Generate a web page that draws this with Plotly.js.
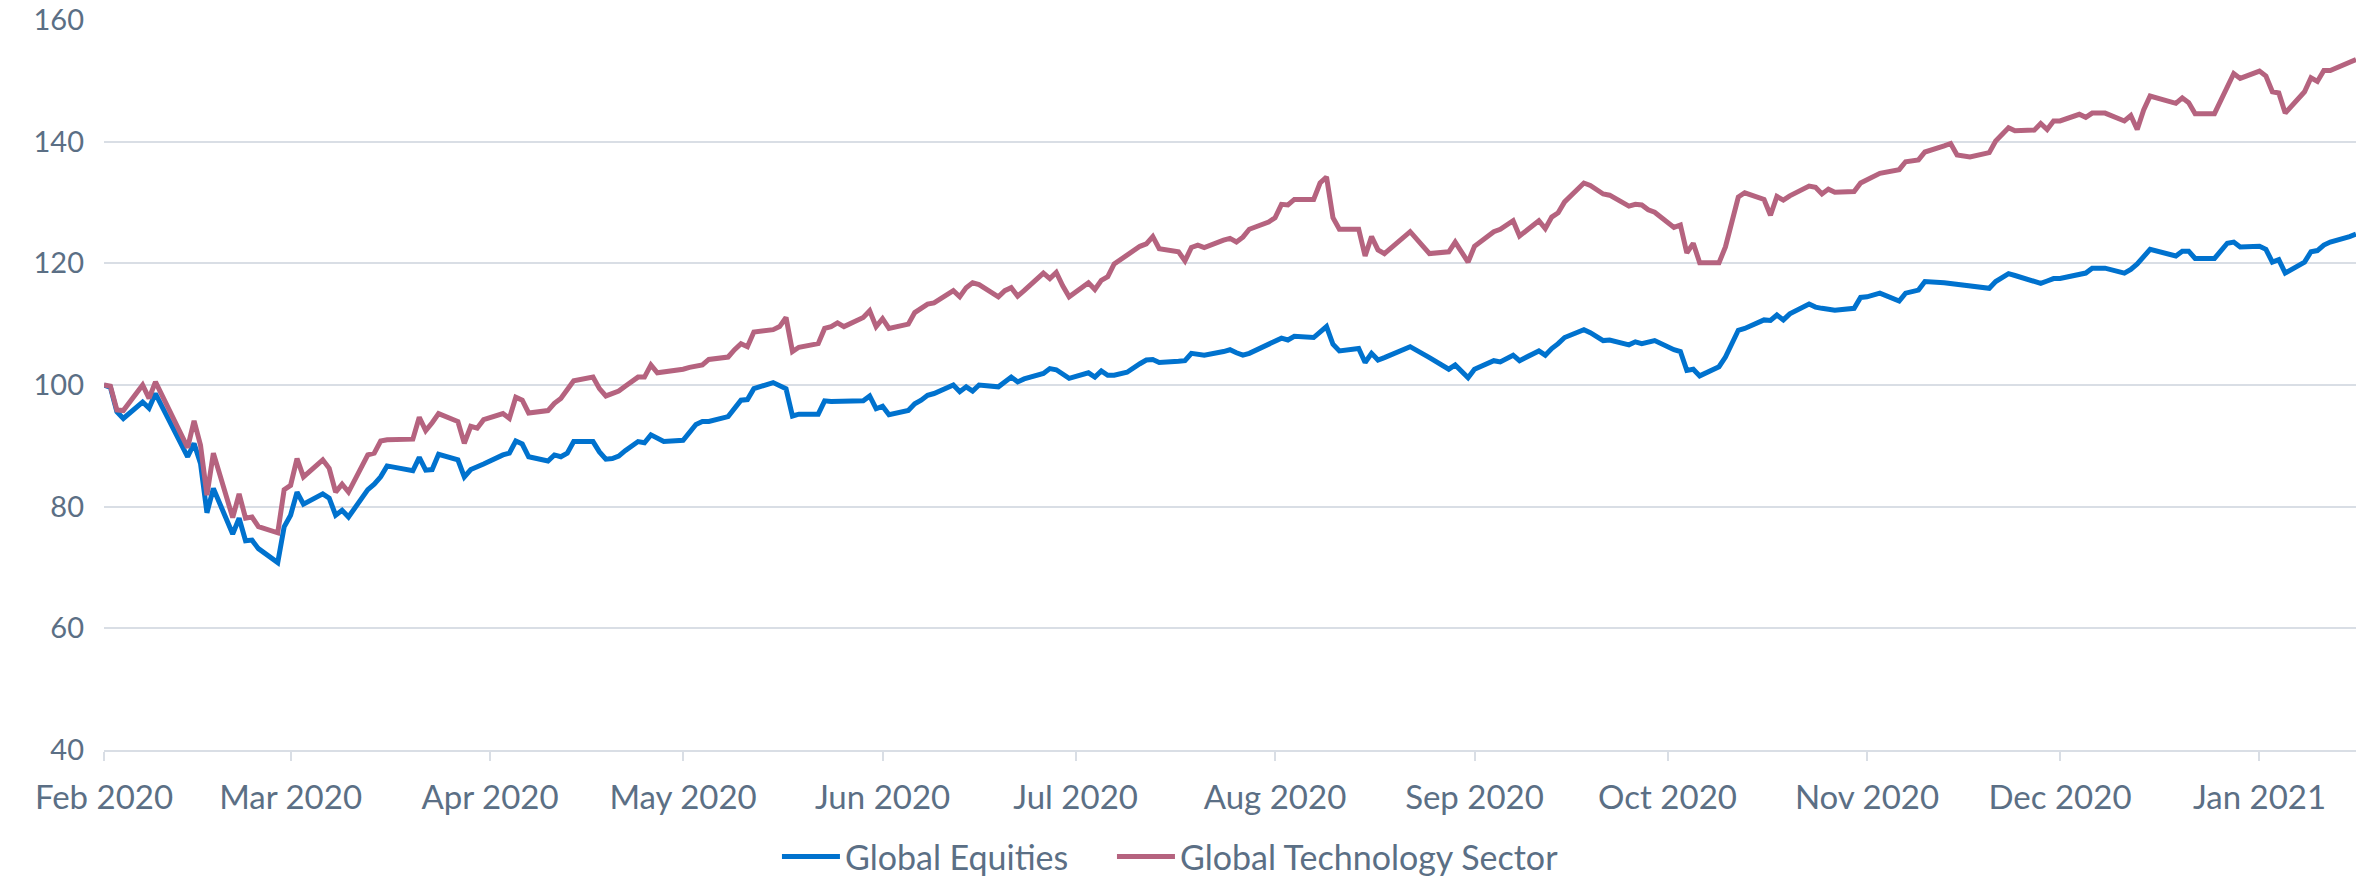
<!DOCTYPE html>
<html>
<head>
<meta charset="utf-8">
<script src="https://cdn.plot.ly/plotly-3.0.1.min.js"></script>
<style>html,body{margin:0;padding:0;background:#fff;}#chart{width:2376px;height:877px;}</style>
</head>
<body>
<div id="chart"></div>
<script>
const dates = [
'2020-02-01','2020-02-02','2020-02-03','2020-02-04','2020-02-07','2020-02-08','2020-02-09','2020-02-14','2020-02-15','2020-02-16',
'2020-02-17','2020-02-18','2020-02-21','2020-02-22','2020-02-23','2020-02-24','2020-02-25','2020-02-28','2020-02-29','2020-03-01',
'2020-03-02','2020-03-03','2020-03-06','2020-03-07','2020-03-08','2020-03-09','2020-03-10','2020-03-13','2020-03-14','2020-03-15',
'2020-03-16','2020-03-20','2020-03-21','2020-03-22','2020-03-23','2020-03-24','2020-03-27','2020-03-28','2020-03-29','2020-03-30',
'2020-03-31','2020-04-03','2020-04-04','2020-04-05','2020-04-06','2020-04-07','2020-04-10','2020-04-11','2020-04-12','2020-04-13',
'2020-04-14','2020-04-17','2020-04-18','2020-04-19','2020-04-20','2020-04-21','2020-04-22','2020-04-24','2020-04-25','2020-04-26',
'2020-04-27','2020-04-28','2020-05-01','2020-05-02','2020-05-03','2020-05-04','2020-05-05','2020-05-08','2020-05-09','2020-05-10',
'2020-05-11','2020-05-12','2020-05-15','2020-05-16','2020-05-17','2020-05-18','2020-05-19','2020-05-22','2020-05-23','2020-05-24',
'2020-05-25','2020-05-26','2020-05-29','2020-05-30','2020-05-31','2020-06-01','2020-06-02','2020-06-05','2020-06-06','2020-06-07',
'2020-06-08','2020-06-09','2020-06-12','2020-06-13','2020-06-14','2020-06-15','2020-06-16','2020-06-19','2020-06-20','2020-06-21',
'2020-06-22','2020-06-23','2020-06-26','2020-06-27','2020-06-28','2020-06-29','2020-06-30','2020-07-03','2020-07-04','2020-07-05',
'2020-07-06','2020-07-07','2020-07-09','2020-07-11','2020-07-12','2020-07-13','2020-07-14','2020-07-17','2020-07-18','2020-07-19',
'2020-07-20','2020-07-21','2020-07-24','2020-07-25','2020-07-26','2020-07-27','2020-07-28','2020-07-31','2020-08-01','2020-08-02',
'2020-08-03','2020-08-04','2020-08-07','2020-08-08','2020-08-09','2020-08-10','2020-08-11','2020-08-14','2020-08-15','2020-08-16',
'2020-08-17','2020-08-18','2020-08-22','2020-08-25','2020-08-28','2020-08-29','2020-08-31','2020-09-01','2020-09-04','2020-09-05',
'2020-09-07','2020-09-08','2020-09-11','2020-09-12','2020-09-13','2020-09-14','2020-09-15','2020-09-18','2020-09-19','2020-09-21',
'2020-09-22','2020-09-25','2020-09-26','2020-09-27','2020-09-28','2020-09-29','2020-10-02','2020-10-03','2020-10-04','2020-10-05',
'2020-10-06','2020-10-09','2020-10-10','2020-10-12','2020-10-13','2020-10-16','2020-10-17','2020-10-18','2020-10-19','2020-10-20',
'2020-10-23','2020-10-24','2020-10-25','2020-10-26','2020-10-27','2020-10-30','2020-10-31','2020-11-01','2020-11-03','2020-11-06',
'2020-11-07','2020-11-09','2020-11-10','2020-11-13','2020-11-14','2020-11-15','2020-11-17','2020-11-20','2020-11-21','2020-11-23',
'2020-11-24','2020-11-27','2020-11-28','2020-11-29','2020-11-30','2020-12-01','2020-12-04','2020-12-05','2020-12-06','2020-12-08',
'2020-12-11','2020-12-12','2020-12-13','2020-12-14','2020-12-15','2020-12-19','2020-12-20','2020-12-21','2020-12-22','2020-12-25',
'2020-12-27','2020-12-28','2020-12-29','2021-01-01','2021-01-02','2021-01-03','2021-01-04','2021-01-05','2021-01-08','2021-01-09',
'2021-01-10','2021-01-11','2021-01-12','2021-01-15','2021-01-16'
];

const globalEquities = [
100.0,99.6,95.6,94.5,97.2,96.2,98.6,88.2,90.4,87.1,
79.0,83.0,75.5,78.1,74.4,74.5,73.1,70.8,76.7,78.6,
82.4,80.4,82.1,81.4,78.6,79.4,78.3,82.8,83.7,84.9,
86.7,85.9,88.1,86.0,86.1,88.6,87.7,84.9,86.1,86.5,
87.0,88.5,88.8,90.8,90.3,88.2,87.5,88.5,88.2,88.8,
90.7,90.7,89.0,87.8,87.9,88.3,89.2,90.7,90.5,91.8,
91.2,90.7,90.9,92.1,93.5,94.0,94.0,94.8,96.2,97.5,
97.6,99.4,100.4,100.0,99.4,94.9,95.2,95.2,97.4,97.3,
97.3,97.3,97.4,98.2,96.1,96.5,95.1,95.8,96.9,97.5,
98.3,98.6,100.0,98.9,99.7,99.0,100.0,99.7,100.5,101.3,
100.5,101.0,101.9,102.7,102.5,101.8,101.1,102.0,101.3,102.3,
101.6,101.6,102.1,103.5,104.1,104.2,103.7,103.9,104.0,105.2,
105.0,104.9,105.5,105.8,105.3,104.9,105.2,106.7,107.0,107.7,
107.4,108.0,107.8,108.6,109.6,106.7,105.6,106.0,103.7,105.2,
104.1,104.5,106.3,104.5,102.6,103.3,101.2,102.6,104.0,103.8,
104.9,104.0,105.6,104.9,106.0,106.8,107.8,109.1,108.6,107.3,
107.4,106.6,107.1,106.8,107.1,107.3,105.8,105.5,102.4,102.6,
101.5,103.0,104.6,109.0,109.3,110.7,110.6,111.5,110.7,111.7,
113.3,112.8,112.6,112.4,112.3,112.6,114.4,114.5,115.1,113.8,
115.1,115.6,117.0,116.8,116.7,116.6,116.2,115.9,117.0,118.3,
118.0,116.9,116.7,117.1,117.5,117.5,118.2,118.4,119.2,119.2,
118.4,119.0,119.9,121.0,122.3,121.2,122.0,122.0,120.8,120.8,
123.3,123.5,122.7,122.8,122.3,120.2,120.6,118.4,120.2,121.9,
122.1,123.0,123.5,124.4,124.8
];

const globalTech = [
100.0,99.8,95.9,95.8,100.0,97.8,100.5,89.7,94.1,90.1,
81.9,88.8,78.2,82.1,78.1,78.3,76.7,75.7,82.8,83.5,
87.9,84.9,87.7,86.3,82.4,83.7,82.4,88.5,88.8,90.8,
91.0,91.1,94.7,92.5,93.8,95.3,94.0,90.4,93.2,92.9,
94.3,95.3,94.5,98.0,97.5,95.4,95.8,97.0,97.8,99.2,
100.7,101.3,99.4,98.2,98.6,99.0,99.8,101.3,101.3,103.3,
102.0,102.1,102.6,102.9,103.2,103.3,104.2,104.6,105.8,106.8,
106.3,108.7,109.1,109.6,111.1,105.5,106.2,106.8,109.3,109.6,
110.2,109.6,111.1,112.2,109.6,110.9,109.3,110.0,111.9,112.6,
113.3,113.5,115.5,114.5,116.0,116.8,116.5,114.5,115.5,116.0,
114.6,115.5,118.4,117.5,118.5,116.3,114.5,116.8,115.7,117.2,
117.8,119.9,121.3,122.8,123.2,124.4,122.4,121.9,120.4,122.6,
123.0,122.6,123.8,124.1,123.5,124.3,125.6,126.8,127.5,129.7,
129.6,130.5,130.5,133.2,134.2,127.5,125.6,125.6,121.2,124.4,
122.2,121.6,125.2,121.6,121.9,123.5,120.2,122.8,125.2,125.6,
127.0,124.5,127.0,125.7,127.6,128.3,130.1,133.2,132.8,131.4,
131.2,129.4,129.7,129.6,128.8,128.4,125.9,126.3,121.7,123.3,
120.1,120.1,122.7,130.9,131.6,130.5,127.9,131.0,130.4,131.1,
132.7,132.5,131.4,132.2,131.7,131.8,133.2,133.8,134.8,135.4,
136.7,137.0,138.3,139.3,139.7,137.8,137.5,138.2,140.1,142.3,
141.8,141.9,143.0,142.0,143.4,143.4,144.5,144.0,144.7,144.7,
143.4,144.3,142.0,145.2,147.5,146.3,147.2,146.4,144.6,144.6,
149.3,151.2,150.4,151.6,150.8,148.2,148.0,144.7,148.2,150.5,
149.9,151.7,151.7,153.1,153.5
];

const seriesNames = ['Global Equities', 'Global Technology Sector'];
const yTicks = [40, 60, 80, 100, 120, 140, 160];

const textColor = '#5b6f85';
const gridColor = '#d9dee5';
const fontFam = 'Lato, "Open Sans", sans-serif';

const traces = [
  {x: dates, y: globalEquities, name: seriesNames[0], type: 'scatter', mode: 'lines',
   line: {color: '#0072ce', width: 5}, legend: 'legend'},
  {x: dates, y: globalTech, name: seriesNames[1], type: 'scatter', mode: 'lines',
   line: {color: '#b5637f', width: 5}, legend: 'legend2'}
];

const legendBase = {orientation: 'h', xref: 'container', yref: 'container',
  xanchor: 'left', y: 0.023, yanchor: 'middle',
  font: {family: fontFam, size: 34, color: textColor}, itemwidth: 58};

const layout = {
  width: 2376, height: 877,
  margin: {l: 104, r: 20, t: 20, b: 127, autoexpand: false},
  paper_bgcolor: '#ffffff', plot_bgcolor: '#ffffff',
  font: {family: fontFam, size: 32, color: textColor},
  showlegend: true,
  legend: Object.assign({}, legendBase, {x: 0.327}),
  legend2: Object.assign({}, legendBase, {x: 0.468}),
  xaxis: {
    type: 'date', range: [dates[0], dates[dates.length - 1]],
    tick0: '2020-02-01', dtick: 'M1', tickformat: '%b %Y',
    showgrid: false, zeroline: false,
    showline: true, linecolor: gridColor, linewidth: 2,
    ticks: 'outside', ticklen: 9, tickwidth: 2, tickcolor: gridColor,
    ticklabelstandoff: 8, ticklabeloverflow: 'allow',
    tickfont: {family: fontFam, size: 33, color: textColor}
  },
  yaxis: {
    range: [40, 160], tickvals: yTicks, ticktext: yTicks.map(String),
    showgrid: true, gridcolor: gridColor, gridwidth: 2,
    zeroline: false, showline: false, ticks: '',
    ticklabelstandoff: 19, ticklabeloverflow: 'allow',
    tickfont: {family: fontFam, size: 29, color: textColor}
  }
};

Plotly.newPlot('chart', traces, layout, {displayModeBar: false, staticPlot: true});
</script>
</body>
</html>
